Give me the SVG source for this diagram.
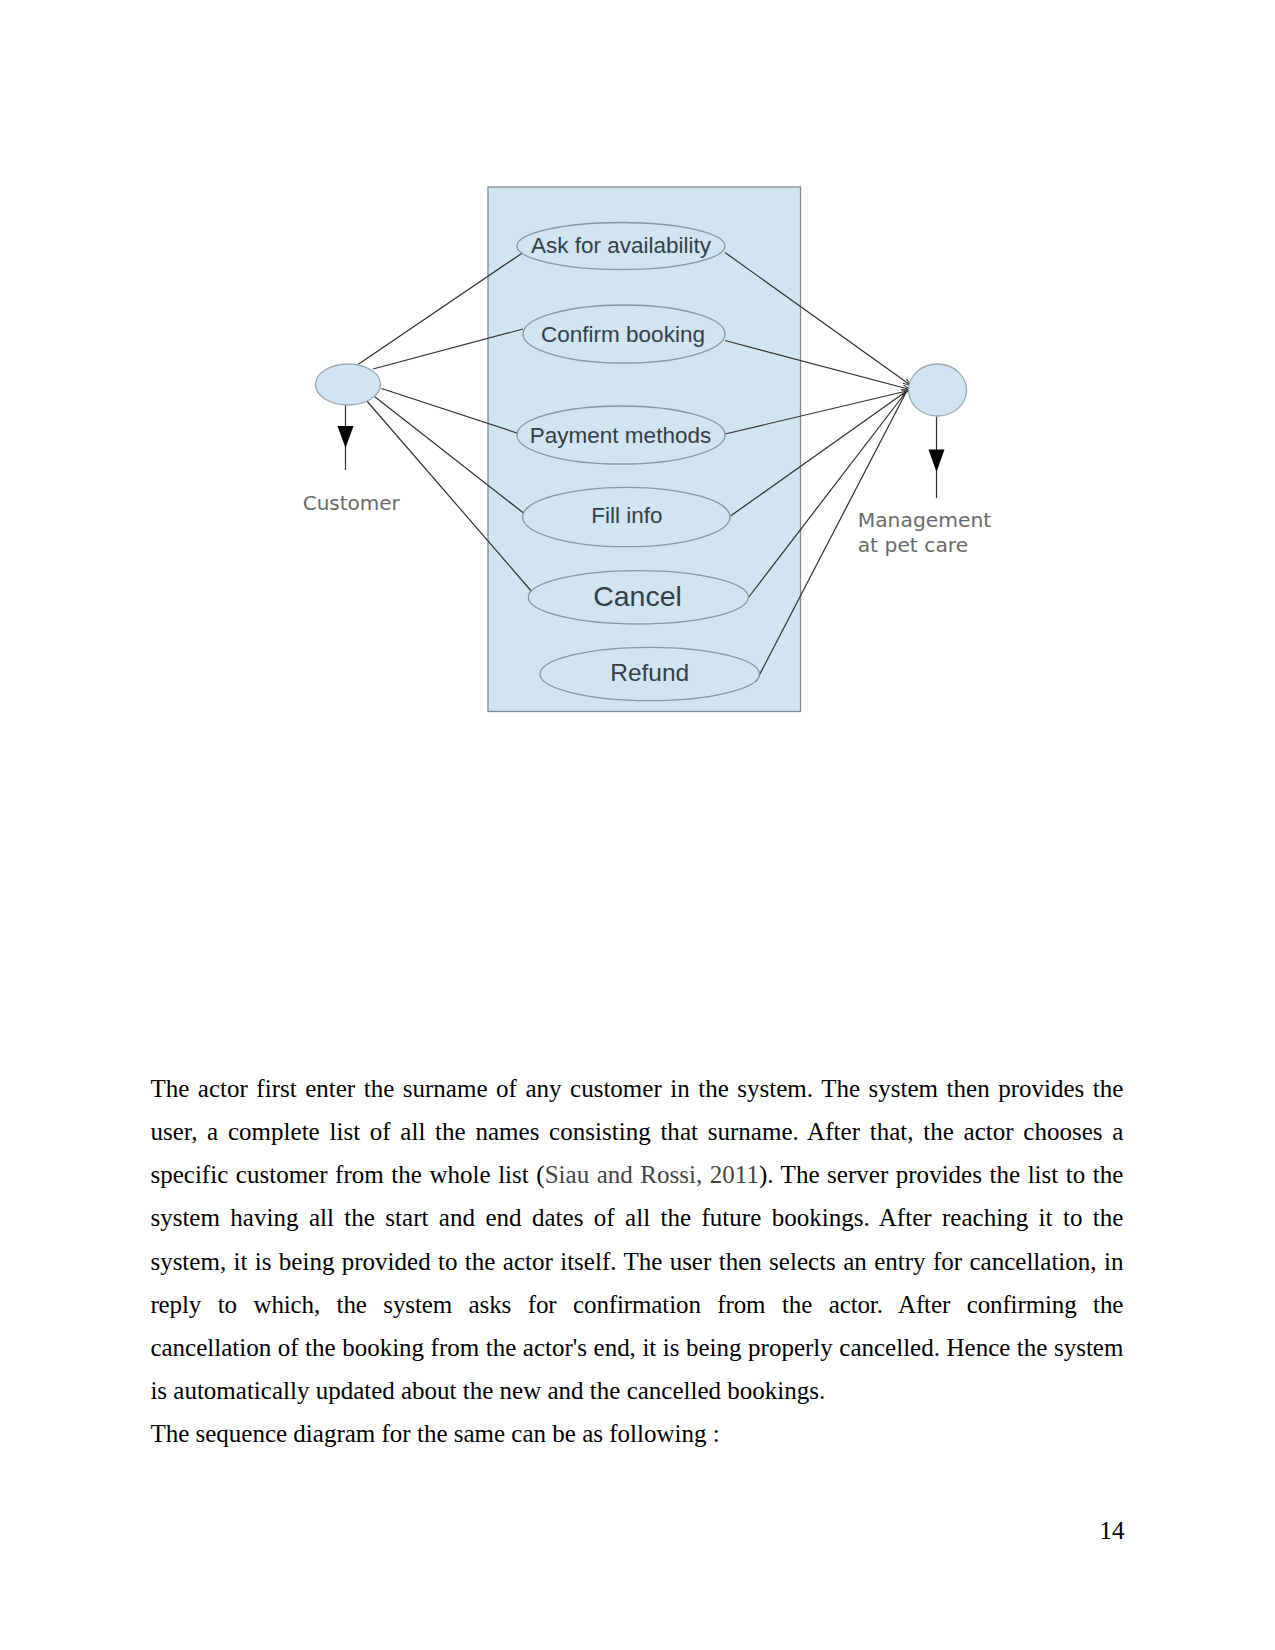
<svg xmlns="http://www.w3.org/2000/svg" width="1275" height="1650" viewBox="0 0 1275 1650">
<defs>
<style>
.uc{fill:#d0e4f1;stroke:#8796a1;stroke-width:1.3}
.uct{font-family:"Liberation Sans",Arial,sans-serif;fill:#333f48;text-anchor:middle}
.actor{fill:#d0e4f1;stroke:#98a8b3;stroke-width:1.3}
.albl{font-family:"DejaVu Sans",sans-serif;fill:#6a6a6a}
.con{stroke:#2e2e2e;stroke-width:1.2;fill:none}
.body{font-family:"Liberation Serif","Times New Roman",serif;font-size:25px;fill:#000}
</style>
<marker id="open" markerWidth="10" markerHeight="8" refX="8" refY="3" orient="auto" markerUnits="userSpaceOnUse">
<path d="M0,0 L8,3 L0,6" fill="none" stroke="#2e2e2e" stroke-width="1"/>
</marker>
</defs>
<rect width="1275" height="1650" fill="#fff"/>

<g id="system">
<rect x="488" y="187" width="312.5" height="524.5" fill="#d0e4f1" stroke="#7d8a93" stroke-width="1.3"/>
</g>

<g id="connectors">
<line class="con" x1="358" y1="364.5" x2="523" y2="252.5"/>
<line class="con" x1="373" y1="369" x2="523" y2="329"/>
<line class="con" x1="381.5" y1="388.5" x2="520" y2="434"/>
<line class="con" x1="370" y1="393" x2="528" y2="516.5"/>
<line class="con" x1="366" y1="400" x2="533" y2="593"/>
<line class="con" x1="725" y1="252.5" x2="911" y2="385.5" marker-end="url(#open)"/>
<line class="con" x1="725" y1="340.5" x2="910" y2="389.5" marker-end="url(#open)"/>
<line class="con" x1="725" y1="434" x2="909" y2="390.5" marker-end="url(#open)"/>
<line class="con" x1="730.5" y1="516" x2="906" y2="391.5"/>
<line class="con" x1="748" y1="598" x2="906" y2="392"/>
<line class="con" x1="756" y1="681.5" x2="906" y2="392.5"/>
<line class="con" x1="345.5" y1="405" x2="345.5" y2="470"/>
<polygon points="337.5,426 353.5,426 345.5,448" fill="#000"/>
<line class="con" x1="936.5" y1="416.5" x2="936.5" y2="498"/>
<polygon points="928.5,449.5 944.5,449.5 936.5,472" fill="#000"/>
</g>

<g id="uc-ask">
<ellipse class="uc" cx="621" cy="246" rx="104" ry="23.5"/>
<text class="uct" x="621" y="253.3" font-size="22.5">Ask for availability</text>
</g>
<g id="uc-confirm">
<ellipse class="uc" cx="624" cy="334" rx="101" ry="29"/>
<text class="uct" x="623" y="341.7" font-size="22.5">Confirm booking</text>
</g>
<g id="uc-payment">
<ellipse class="uc" cx="621" cy="435" rx="104" ry="29"/>
<text class="uct" x="620.5" y="443.3" font-size="22.5">Payment methods</text>
</g>
<g id="uc-fill">
<ellipse class="uc" cx="626.3" cy="517" rx="103.7" ry="29.7"/>
<text class="uct" x="627" y="523.3" font-size="22.5">Fill info</text>
</g>
<g id="uc-cancel">
<ellipse class="uc" cx="638.3" cy="597.3" rx="110" ry="26.7"/>
<text class="uct" x="637.5" y="606" font-size="28.5">Cancel</text>
</g>
<g id="uc-refund">
<ellipse class="uc" cx="649.7" cy="674" rx="109.7" ry="26.7"/>
<text class="uct" x="649.7" y="681" font-size="24.5">Refund</text>
</g>

<g id="actor-customer">
<ellipse class="actor" cx="348" cy="384.5" rx="32.5" ry="20.5"/>
<text class="albl" x="302.7" y="510" font-size="20">Customer</text>
</g>
<g id="actor-management">
<ellipse class="actor" cx="937.5" cy="390" rx="29" ry="26"/>
<text class="albl" x="857.7" y="526.7" font-size="20.3">Management</text>
<text class="albl" x="857.7" y="551.7" font-size="20.3">at pet care</text>
</g>

<g id="paragraph" class="body">
<text x="150.4" y="1097.1" word-spacing="2.28" textLength="973" lengthAdjust="spacing">The actor first enter the surname of any customer in the system. The system then provides the</text>
<text x="150.4" y="1140.2" word-spacing="3.41" textLength="973" lengthAdjust="spacing">user, a complete list of all the names consisting that surname. After that, the actor chooses a</text>
<text x="150.4" y="1183.3" word-spacing="1.28" textLength="973" lengthAdjust="spacing">specific customer from the whole list (<tspan fill="#444">Siau and Rossi, 2011</tspan>). The server provides the list to the</text>
<text x="150.4" y="1226.4" word-spacing="4.14" textLength="973" lengthAdjust="spacing">system having all the start and end dates of all the future bookings. After reaching it to the</text>
<text x="150.4" y="1269.5" word-spacing="1.12" textLength="973" lengthAdjust="spacing">system, it is being provided to the actor itself. The user then selects an entry for cancellation, in</text>
<text x="150.4" y="1312.6" word-spacing="10.38" textLength="973" lengthAdjust="spacing">reply to which, the system asks for confirmation from the actor. After confirming the</text>
<text x="150.4" y="1355.7" word-spacing="0.28" textLength="973" lengthAdjust="spacing">cancellation of the booking from the actor's end, it is being properly cancelled. Hence the system</text>
<text x="150.4" y="1398.8">is automatically updated about the new and the cancelled bookings.</text>
<text x="150.4" y="1441.9">The sequence diagram for the same can be as following :</text>
<text x="1124.5" y="1539.3" text-anchor="end">14</text>
</g>
</svg>
